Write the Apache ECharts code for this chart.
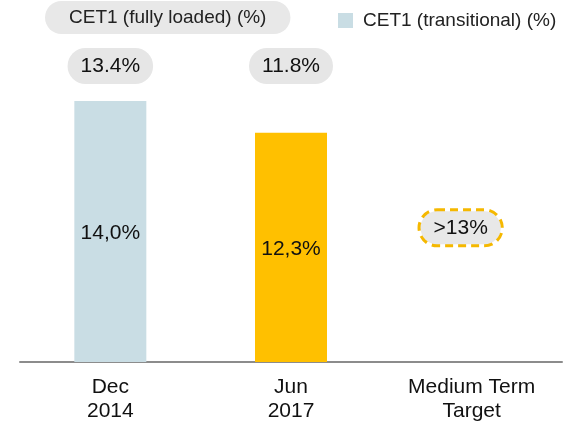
<!DOCTYPE html>
<html>
<head>
<meta charset="utf-8">
<script src="https://cdn.jsdelivr.net/npm/echarts@6/dist/echarts.min.js"></script>
<style>
  html, body { margin: 0; padding: 0; background: #fff; }
  #container { width: 573px; height: 425px; }
</style>
</head>
<body>
<div id="container"></div>
<script>
var categories = ['Dec\n2014', 'Jun\n2017', 'Medium Term\nTarget'];
var transitional = [14.0, 12.3, null];
var fullyLoaded = [13.4, 11.8, null];
var targetValue = 13;
var targetLabel = '>13%';
var barColors = ['#c9dde4', '#ffc000'];

var font = 'Liberation Sans, Arial, sans-serif';
var yMax = 14;

var myChart = echarts.init(document.getElementById('container'));

var option = {
    animation: false,
    textStyle: { fontFamily: font },
    legend: [{
        data: ['CET1 (fully loaded) (%)'],
        left: 45,
        top: 1,
        icon: 'none',
        itemWidth: 0,
        backgroundColor: '#e8e8e8',
        borderRadius: 17,
        padding: [7, 24, 7, 19],
        selectedMode: false,
        textStyle: { fontSize: 19, color: '#222', fontFamily: font }
    }, {
        data: ['CET1 (transitional) (%)'],
        left: 333,
        top: 6,
        icon: 'rect',
        itemWidth: 15,
        itemHeight: 15,
        selectedMode: false,
        textStyle: { fontSize: 19, color: '#222', fontFamily: font, padding: [0, 0, 0, 5] }
    }],
    grid: { left: 20, right: 11, top: 101, bottom: 63 },
    xAxis: {
        type: 'category',
        data: categories,
        axisLine: { lineStyle: { color: '#8c8c8c', width: 2 } },
        axisTick: { show: false },
        axisLabel: {
            fontSize: 21, color: '#111', margin: 13, lineHeight: 24, fontFamily: font
        }
    },
    yAxis: {
        type: 'value', min: 0, max: yMax, show: false
    },
    series: [{
        name: 'CET1 (transitional) (%)',
        type: 'bar',
        barWidth: 72,
        itemStyle: { color: barColors[0] },
        data: transitional.map(function (v, i) {
            return v == null ? null : { value: v, itemStyle: { color: barColors[i] } };
        }),
        label: {
            show: true,
            position: 'inside',
            offset: [0, 2],
            fontSize: 21,
            color: '#111',
            fontFamily: font,
            formatter: function (p) { return p.value.toFixed(1).replace('.', ',') + '%'; }
        }
    }, {
        name: 'CET1 (fully loaded) (%)',
        type: 'bar',
        barWidth: 72,
        barGap: '-100%',
        itemStyle: { color: 'rgba(0,0,0,0)' },
        data: fullyLoaded.map(function (v) { return v == null ? null : yMax; }),
        label: {
            show: true,
            position: 'top',
            distance: 17,
            fontSize: 21,
            color: '#111',
            fontFamily: font,
            backgroundColor: '#e6e6e6',
            borderRadius: 18,
            padding: [8, 13, 7, 13],
            formatter: function (p) { return fullyLoaded[p.dataIndex].toFixed(1) + '%'; }
        },
        silent: true
    }, {
        name: 'target',
        type: 'bar',
        barWidth: 72,
        barGap: '-100%',
        itemStyle: { color: 'rgba(0,0,0,0)' },
        data: categories.map(function (c, i) { return i == 2 ? targetValue : null; }),
        label: {
            show: true,
            position: 'inside',
            offset: [-11, -13],
            fontSize: 21,
            color: '#111',
            fontFamily: font,
            backgroundColor: '#e8e8e8',
            borderColor: '#f5b800',
            borderWidth: 3,
            borderType: [8, 5],
            borderRadius: 19,
            padding: [6, 13, 6, 13],
            formatter: function () { return targetLabel; }
        },
        silent: true
    }]
};
myChart.setOption(option);
</script>
</body>
</html>
